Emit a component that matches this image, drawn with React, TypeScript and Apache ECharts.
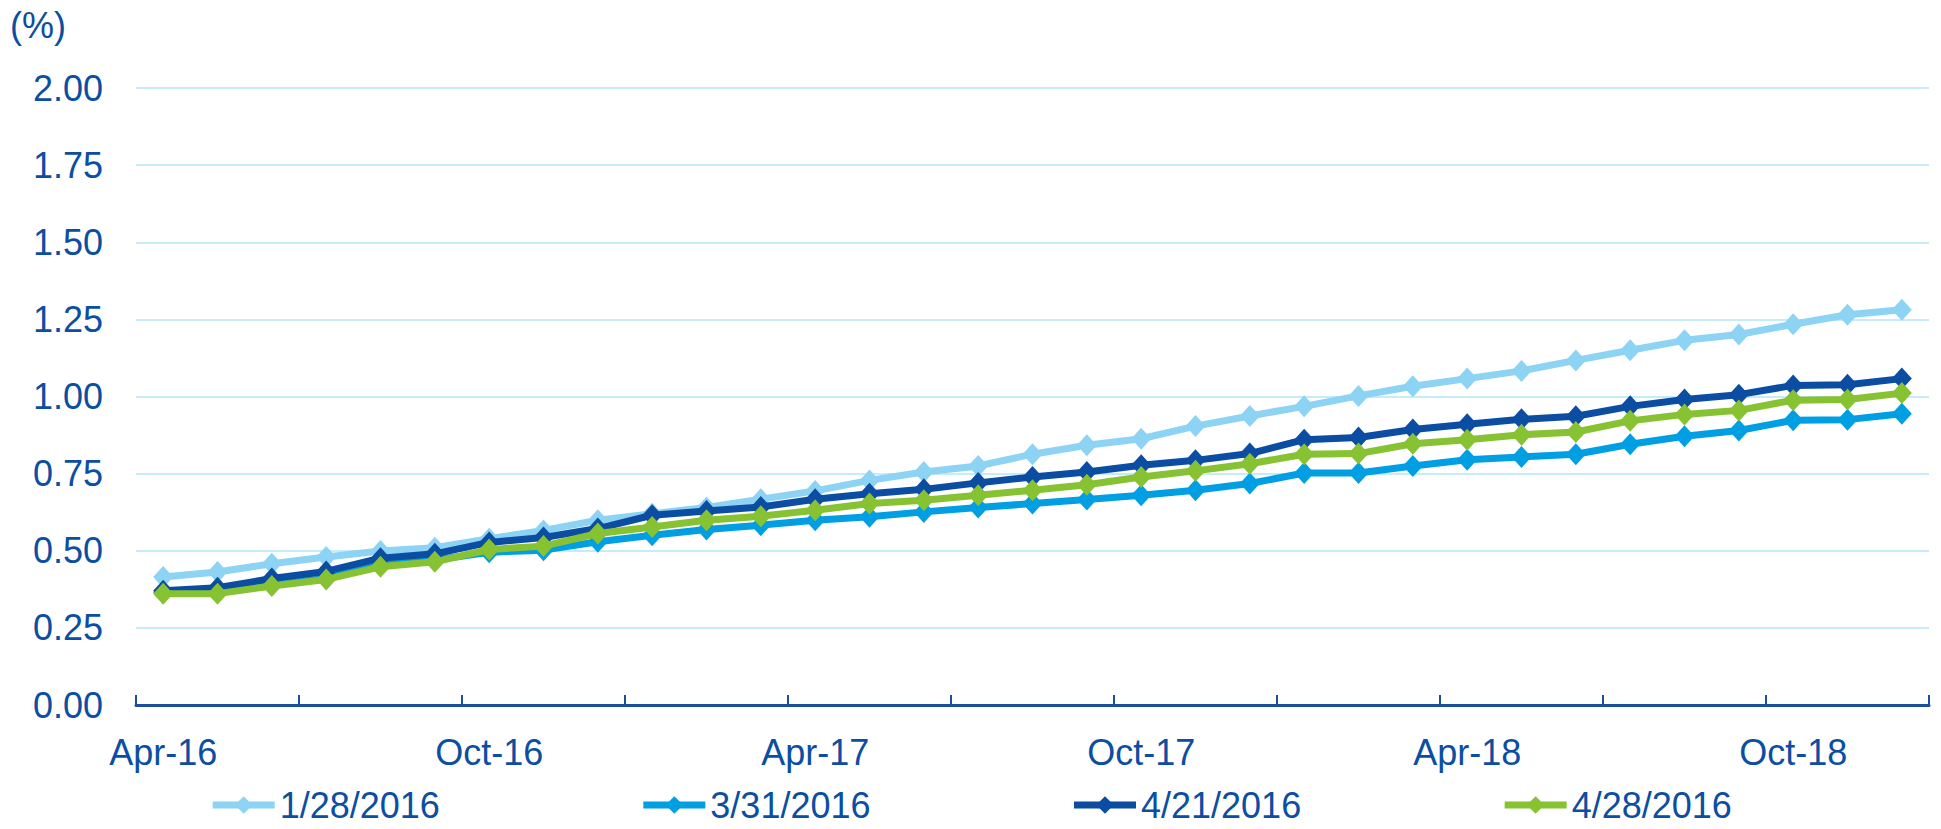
import React, { useEffect, useRef } from "react";
import * as echarts from "echarts";

const months = [
  "Apr-16", "May-16", "Jun-16", "Jul-16", "Aug-16", "Sep-16", "Oct-16", "Nov-16", "Dec-16",
  "Jan-17", "Feb-17", "Mar-17", "Apr-17", "May-17", "Jun-17", "Jul-17", "Aug-17", "Sep-17",
  "Oct-17", "Nov-17", "Dec-17", "Jan-18", "Feb-18", "Mar-18", "Apr-18", "May-18", "Jun-18",
  "Jul-18", "Aug-18", "Sep-18", "Oct-18", "Nov-18", "Dec-18",
];

const s0128 = [
  0.415, 0.431, 0.458, 0.48, 0.499, 0.51, 0.539, 0.566, 0.599, 0.62, 0.64, 0.667, 0.694,
  0.728, 0.755, 0.775, 0.813, 0.842, 0.863, 0.904, 0.937, 0.968, 1.002, 1.033, 1.058, 1.083,
  1.117, 1.15, 1.182, 1.201, 1.234, 1.265, 1.281,
];
const s0331 = [
  0.365, 0.37, 0.39, 0.41, 0.455, 0.47, 0.495, 0.502, 0.529, 0.55, 0.569, 0.583, 0.599,
  0.61, 0.626, 0.64, 0.653, 0.666, 0.68, 0.696, 0.718, 0.752, 0.752, 0.775, 0.795, 0.804,
  0.813, 0.845, 0.871, 0.89, 0.923, 0.925, 0.944,
];
const s0421 = [
  0.37, 0.38, 0.41, 0.433, 0.476, 0.49, 0.527, 0.543, 0.572, 0.615, 0.629, 0.642, 0.667,
  0.685, 0.699, 0.72, 0.739, 0.755, 0.777, 0.793, 0.815, 0.86, 0.867, 0.893, 0.91, 0.926,
  0.936, 0.968, 0.99, 1.006, 1.036, 1.038, 1.058,
];
const s0428 = [
  0.361, 0.361, 0.386, 0.407, 0.448, 0.464, 0.504, 0.515, 0.556, 0.577, 0.599, 0.612, 0.631,
  0.653, 0.664, 0.68, 0.696, 0.714, 0.739, 0.759, 0.782, 0.813, 0.815, 0.847, 0.86, 0.876,
  0.885, 0.921, 0.942, 0.955, 0.988, 0.99, 1.011,
];

const seriesNames = ["1/28/2016", "3/31/2016", "4/21/2016", "4/28/2016"];
const seriesData = [s0128, s0331, s0421, s0428];
const seriesColors = ["#8DD3F3", "#009FE3", "#0A4DA2", "#86C232"];

const TEXT = "#0B4EA2";
const FONT = '"Liberation Sans", Arial, sans-serif';

export default function App() {
  const ref = useRef<HTMLDivElement>(null);
  useEffect(() => {
    if (!ref.current) return;
    const chart = echarts.init(ref.current, undefined, { renderer: "svg" });
    chart.setOption({
      animation: false,
      backgroundColor: "#ffffff",
      textStyle: { fontFamily: FONT },
      graphic: [
        {
          type: "text",
          left: 10,
          top: 7,
          style: { text: "(%)", fontSize: 36, fill: TEXT, fontFamily: FONT },
        },
      ],
      grid: { left: 136, right: 12, top: 88, bottom: 124, containLabel: false },
      legend: {
        data: seriesNames,
        left: "center",
        bottom: 4,
        padding: 2,
        itemGap: 200,
        itemWidth: 62,
        itemHeight: 22,
        lineStyle: { width: 7 },
        textStyle: { fontSize: 36, color: TEXT, fontFamily: FONT },
      },
      xAxis: {
        type: "category",
        data: months,
        boundaryGap: true,
        axisLine: { lineStyle: { color: "#1A4F9C", width: 3 } },
        axisTick: {
          show: true,
          inside: true,
          length: 10,
          interval: 2,
          lineStyle: { color: "#1A4F9C", width: 2 },
        },
        axisLabel: {
          interval: 5,
          fontSize: 36,
          color: TEXT,
          margin: 29,
          fontFamily: FONT,
        },
        splitLine: { show: false },
      },
      yAxis: {
        type: "value",
        min: 0,
        max: 2,
        interval: 0.25,
        axisLine: { show: false },
        axisTick: { show: false },
        axisLabel: {
          fontSize: 36,
          color: TEXT,
          margin: 33,
          fontFamily: FONT,
          formatter: (v: number) => v.toFixed(2),
        },
        splitLine: { lineStyle: { color: "#C6EBF9", width: 2 } },
      },
      series: seriesNames.map((name, i) => ({
        name,
        type: "line",
        data: seriesData[i],
        symbol: "diamond",
        symbolSize: [20, 22],
        showSymbol: true,
        lineStyle: { color: seriesColors[i], width: 7 },
        itemStyle: { color: seriesColors[i] },
        z: 2 + i,
      })),
    });
    return () => chart.dispose();
  }, []);
  return (
    <div
      ref={ref}
      style={{ position: "fixed", left: 0, top: 0, width: 1941, height: 829 }}
    />
  );
}
